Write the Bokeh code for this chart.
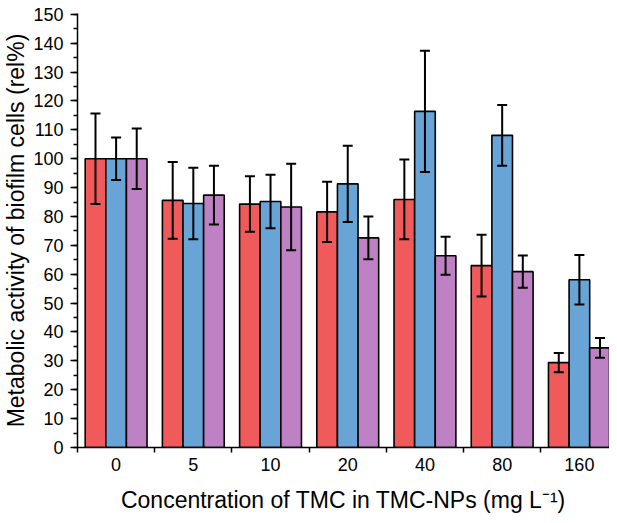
import numpy as np
from bokeh.plotting import figure
from bokeh.models import ColumnDataSource, Range1d, FixedTicker, Whisker, TeeHead
from bokeh.embed import file_html
from bokeh.resources import INLINE

# ---- data ----
concentrations = ["0", "5", "10", "20", "40", "80", "160"]
red_mean = [100, 85.6, 84.3, 81.6, 85.9, 63.0, 29.4]
red_err = [15.7, 13.3, 9.6, 10.4, 13.8, 10.7, 3.3]
blue_mean = [100, 84.5, 85.2, 91.3, 116.4, 108.1, 58.1]
blue_err = [7.4, 12.4, 9.3, 13.2, 21.0, 10.5, 8.6]
purple_mean = [100, 87.4, 83.3, 72.6, 66.4, 60.9, 34.5]
purple_err = [10.5, 10.2, 15.0, 7.4, 6.6, 5.6, 3.4]

colors = ["#F05A5A", "#68A4D6", "#BE82C4"]
series = [(red_mean, red_err), (blue_mean, blue_err), (purple_mean, purple_err)]

FONT = "Liberation Sans"
bar_w = 0.267
offsets = [-bar_w, 0.0, bar_w]

n = len(concentrations)
centers = np.arange(n) + 0.5

p = figure(width=609, height=515, output_backend="svg", toolbar_location=None,
           x_range=Range1d(0, 6.89), y_range=Range1d(0, 150.3),
           min_border_left=77, min_border_right=0, min_border_top=13, min_border_bottom=66)
p.outline_line_color = None
p.background_fill_color = "white"
p.border_fill_color = "white"
p.xgrid.visible = False
p.ygrid.visible = False

for (mean, err), off, col in zip(series, offsets, colors):
    mean = np.array(mean, dtype=float)
    err = np.array(err, dtype=float)
    src = ColumnDataSource(dict(x=centers + off, top=mean, lo=mean - err, hi=mean + err))
    p.vbar(x="x", top="top", bottom=0, width=bar_w, source=src,
           fill_color=col, line_color="black", line_width=1.6)
    w = Whisker(base="x", upper="hi", lower="lo", source=src, dimension="height",
                line_color="black", line_width=2, level="overlay",
                upper_head=TeeHead(size=10, line_color="black", line_width=2),
                lower_head=TeeHead(size=10, line_color="black", line_width=2))
    p.add_layout(w)

# x axis: labels at group centres, ticks at group boundaries (minor ticks)
p.xaxis.ticker = FixedTicker(ticks=list(centers), minor_ticks=list(range(0, n)))
p.xaxis.major_label_overrides = {float(c): lab for c, lab in zip(centers, concentrations)}
p.xaxis.major_tick_out = 0
p.xaxis.major_tick_in = 0
p.xaxis.minor_tick_out = 5
p.xaxis.minor_tick_in = 0
p.xaxis.major_label_standoff = 5
p.xaxis.axis_label = "Concentration of TMC in TMC-NPs (mg L\u207b\u00b9)"
p.xaxis.axis_label_standoff = 13

# y axis
p.yaxis.ticker = FixedTicker(ticks=list(range(0, 151, 10)), minor_ticks=list(range(0, 151, 5)))
p.yaxis.major_tick_out = 7
p.yaxis.major_tick_in = 0
p.yaxis.minor_tick_out = 4
p.yaxis.minor_tick_in = 0
p.yaxis.major_label_standoff = 7
p.yaxis.axis_label = "Metabolic activity of biofilm cells (rel%)"
p.yaxis.axis_label_standoff = 1

for ax in (p.xaxis, p.yaxis):
    ax.axis_line_color = "black"
    ax.axis_line_width = 1.5
    ax.major_tick_line_color = "black"
    ax.major_tick_line_width = 1.5
    ax.minor_tick_line_color = "black"
    ax.minor_tick_line_width = 1.5
    ax.major_label_text_font = FONT
    ax.major_label_text_font_size = "18px"
    ax.major_label_text_color = "black"
    ax.axis_label_text_font = FONT
    ax.axis_label_text_font_size = "23px"
    ax.axis_label_text_font_style = "normal"
    ax.axis_label_text_color = "black"

open("out.html", "w").write(file_html(p, INLINE))
